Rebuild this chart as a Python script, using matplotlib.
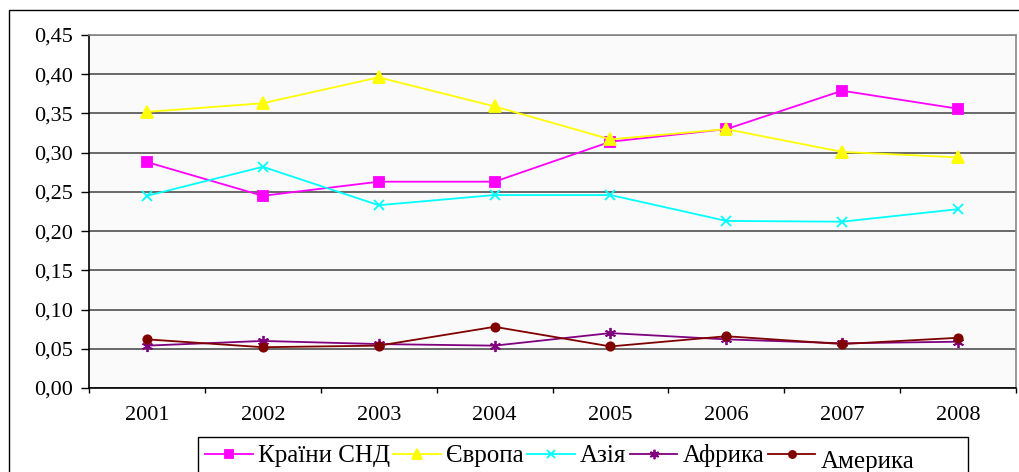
import matplotlib
matplotlib.use("Agg")
import matplotlib.pyplot as plt
from matplotlib.patches import Rectangle
import numpy as np

years = ["2001", "2002", "2003", "2004", "2005", "2006", "2007", "2008"]
cis = [0.288, 0.245, 0.263, 0.263, 0.314, 0.330, 0.379, 0.356]
europe = [0.352, 0.363, 0.396, 0.359, 0.317, 0.330, 0.301, 0.294]
asia = [0.245, 0.282, 0.233, 0.246, 0.246, 0.213, 0.212, 0.228]
africa = [0.054, 0.060, 0.056, 0.054, 0.070, 0.062, 0.057, 0.059]
america = [0.062, 0.052, 0.054, 0.078, 0.053, 0.066, 0.056, 0.064]
labels = ["Країни СНД", "Європа", "Азія", "Африка", "\nАмерика"]
yticks = [0.00, 0.05, 0.10, 0.15, 0.20, 0.25, 0.30, 0.35, 0.40, 0.45]

plt.rcParams['font.family'] = ['Liberation Serif', 'DejaVu Serif']

W, H = 1019, 472
fig = plt.figure(figsize=(W / 100, H / 100), dpi=100)
ax = fig.add_axes([89 / W, 1 - 388 / H, (1016 - 89) / W, (388 - 35) / H])
ax.set_facecolor('#fafafa')

x = np.arange(len(years))
series = [
    (cis, '#ff00ff', 's', 6.5),
    (europe, '#ffff00', '^', 8),
    (asia, '#00ffff', 'x', 7),
    (africa, '#800080', (6, 2, 0), 8),
    (america, '#800000', 'o', 6),
]
handles = []
for (vals, col, mk, ms), lab in zip(series, labels):
    h, = ax.plot(x, vals, color=col, marker=mk, markersize=ms, linewidth=1.3,
                 markeredgecolor=col, markerfacecolor=col, markeredgewidth=1.3,
                 label=lab, zorder=3)
    handles.append(h)

ax.set_xlim(-0.5, len(years) - 0.5)
ax.set_ylim(0, 0.45)
ax.set_yticks(yticks)
ax.set_yticklabels([f"{v:.2f}".replace('.', ',') for v in yticks], fontsize=16)
ax.yaxis.grid(True, color='#505050', linewidth=1.2)
ax.set_axisbelow(True)
ax.set_xticks(np.arange(-0.5, len(years), 1.0))
ax.set_xticklabels([])
ax.set_xticks(x, minor=True)
ax.set_xticklabels(years, minor=True, fontsize=16)
ax.tick_params(axis='x', which='major', length=3.5, direction='out', width=1)
ax.tick_params(axis='x', which='minor', length=0, pad=13)
ax.tick_params(axis='y', length=5.5, direction='out', width=1, pad=6)
for s in ['left', 'bottom']:
    ax.spines[s].set_color('black')
    ax.spines[s].set_linewidth(1.2)
for s in ['top', 'right']:
    ax.spines[s].set_color('#888888')
    ax.spines[s].set_linewidth(1.2)

# outer chart frame
fig.patches.append(Rectangle((9 / W, -0.1), 1.2, 1 - 10 / H + 0.1,
                             transform=fig.transFigure, fill=False,
                             edgecolor='black', linewidth=1))
# legend frame
fig.patches.append(Rectangle((198 / W, -0.1), (968 - 198) / W, 1 - 437 / H + 0.1,
                             transform=fig.transFigure, fill=True,
                             facecolor='white', edgecolor='black', linewidth=1))

leg = fig.legend(handles=handles, loc='upper left',
                 bbox_to_anchor=(205 / W, 1 - 435 / H), ncol=5,
                 fontsize=18, frameon=False, markerscale=0.85,
                 handlelength=1.9, handletextpad=0.2, columnspacing=0.15,
                 borderpad=0, borderaxespad=0)
leg.get_texts()[4].set_linespacing(0.62)

fig.savefig("out.png", dpi=100)
